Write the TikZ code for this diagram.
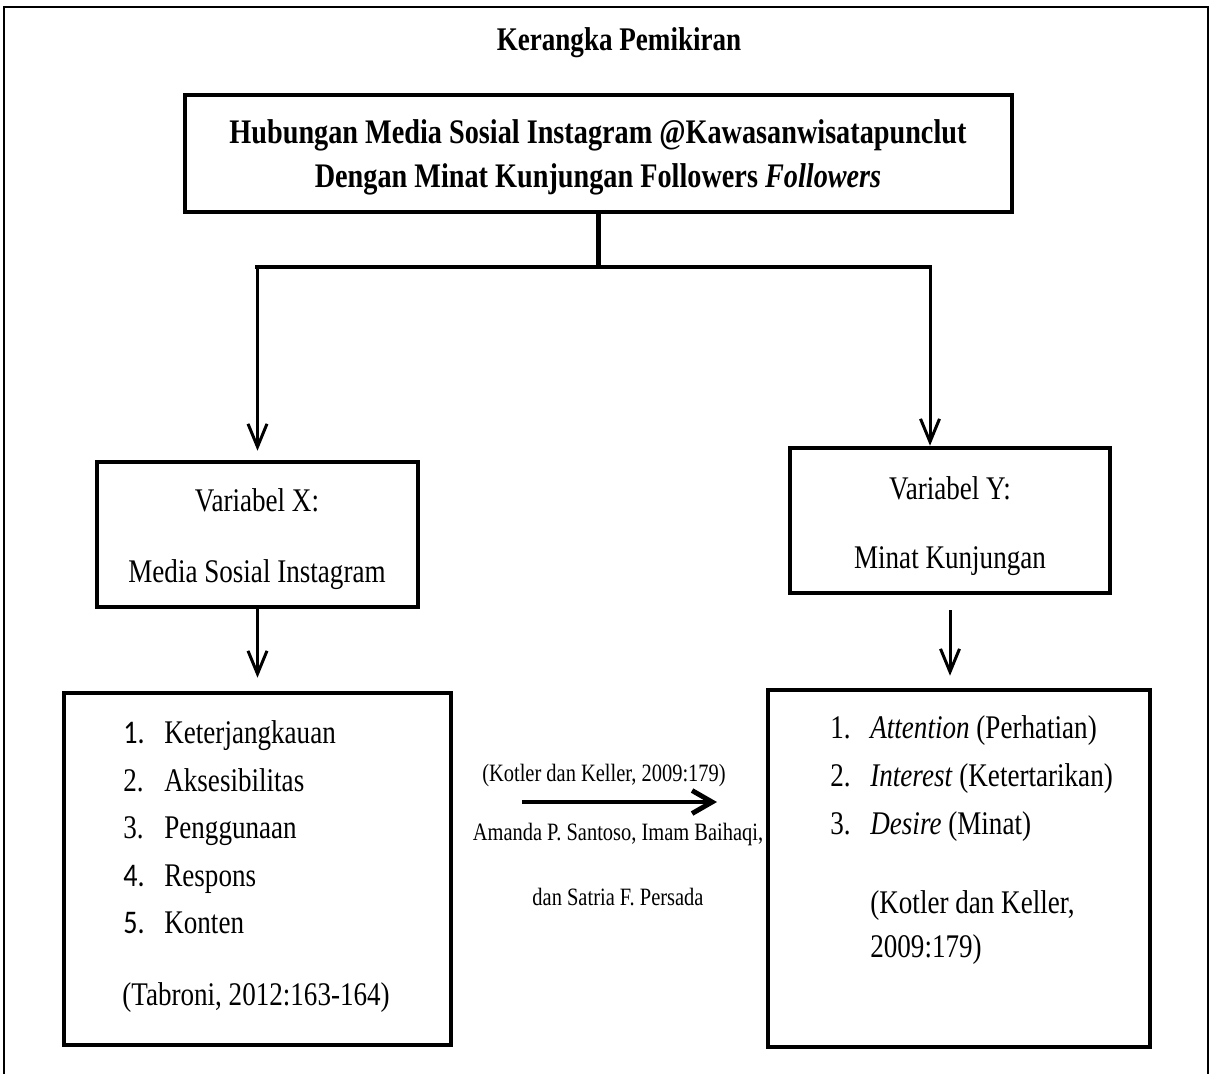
\documentclass[tikz,border=0pt]{standalone}
\usepackage{fontspec}
\setmainfont[FakeStretch=0.82]{Liberation Serif}
\newfontfamily\numfont[FakeStretch=0.85]{Carlito}
\usetikzlibrary{arrows.meta,fit}
\newcommand\bigtxt{\fontsize{18.8}{22}\selectfont}
\newcommand\headtxt{\fontsize{19.6}{23}\selectfont}
\newcommand\midtxt{\fontsize{14.2}{17}\selectfont}
\tikzset{box/.style = {draw, line width=2.6pt, inner sep=0pt}}
\tikzset{frame/.style = {draw, line width=1pt}}
\tikzset{txt/.style = {anchor=base, font=\bigtxt, inner sep=0pt}}
\tikzset{item/.style = {anchor=base west, font=\bigtxt, inner sep=0pt}}
\tikzset{small/.style = {anchor=base, font=\midtxt, inner sep=0pt}}
\tikzset{link/.style = {line width=2.4pt}}
\tikzset{arr/.style = {line width=1.7pt, -{Straight Barb[length=4.6mm, width=3.8mm]}}}
\tikzset{bigarr/.style = {line width=2.8pt, -{Straight Barb[length=4mm, width=4.6mm]}}}

\begin{document}
\begin{tikzpicture}[x=0.02cm, y=-0.02cm]
      \useasboundingbox (0, 0) rectangle (1213, 1073);
      \draw [frame] (4, 7) rectangle (1208, 1090);
      \node [txt, font=\bigtxt\bfseries] (title) at (619, 50) {Kerangka Pemikiran};
      % boxes
      \node [box, fit={(185, 95) (1012, 212)}] (top) {};
      \node [box, fit={(97, 462) (418, 607)}] (boxX) {};
      \node [box, fit={(790, 448) (1110, 593)}] (boxY) {};
      \node [box, fit={(64, 693) (451, 1045)}] (listX) {};
      \node [box, fit={(768, 690) (1150, 1047)}] (listY) {};
      % texts
      \node [txt, font=\headtxt\bfseries] (hub1) at (598, 143) {Hubungan Media Sosial Instagram @Kawasanwisatapunclut};
      \node [txt, font=\headtxt\bfseries] (hub2) at (598, 187) {Dengan Minat Kunjungan Followers \textit{Followers}};
      \node [txt] (varX) at (257, 511) {Variabel X:};
      \node [txt] (nameX) at (257, 582) {Media Sosial Instagram};
      \node [txt] (varY) at (950, 499) {Variabel Y:};
      \node [txt] (nameY) at (950, 568) {Minat Kunjungan};
      \node [item] (nX1) at (123, 743) {\numfont 1.};
      \node [item] (tX1) at (164, 743) {Keterjangkauan};
      \node [item] (nX2) at (123, 791) {2.};
      \node [item] (tX2) at (164, 791) {Aksesibilitas};
      \node [item] (nX3) at (123, 838) {3.};
      \node [item] (tX3) at (164, 838) {Penggunaan};
      \node [item] (nX4) at (123, 886) {\numfont 4.};
      \node [item] (tX4) at (164, 886) {Respons};
      \node [item] (nX5) at (123, 933) {\numfont 5.};
      \node [item] (tX5) at (164, 933) {Konten};
      \node [txt] (srcX) at (256, 1005) {(Tabroni, 2012:163-164)};
      \node [item] (nY1) at (830, 738) {1.};
      \node [item] (tY1) at (870, 738) {\textit{Attention} (Perhatian)};
      \node [item] (nY2) at (830, 786) {2.};
      \node [item] (tY2) at (870, 786) {\textit{Interest} (Ketertarikan)};
      \node [item] (nY3) at (830, 834) {3.};
      \node [item] (tY3) at (870, 834) {\textit{Desire} (Minat)};
      \node [item] (srcY1) at (870, 913) {(Kotler dan Keller,};
      \node [item] (srcY2) at (870, 957) {2009:179)};
      \node [small] (ref1) at (604, 781) {(Kotler dan Keller, 2009:179)};
      \node [small] (ref2) at (618, 840) {Amanda P. Santoso, Imam Baihaqi,};
      \node [small] (ref3) at (618, 905) {dan Satria F. Persada};
      % connectors
      \coordinate (split) at (598.5, 267);
      \coordinate (barL) at (257.5, 267);
      \coordinate (barR) at (930, 267);
      \coordinate (midL) at (522, 802);
      \coordinate (midR) at (717, 802);
      \draw [link] (top.south) -- (split);
      \draw [link, line cap=rect] (barL) -- (barR);
      \draw [arr, shorten >=0.18cm] (barL) -- (boxX.north);
      \draw [arr] (barR) -- (barR |- boxY.north);
      \draw [arr, shorten >=0.26cm] (boxX.south) -- (listX.north -| boxX.south);
      \draw [arr, shorten <=0.3cm, shorten >=0.24cm] (boxY.south) -- (listY.north -| boxY.south);
      \draw [bigarr] (midL) -- (midR);
\end{tikzpicture}
\end{document}
